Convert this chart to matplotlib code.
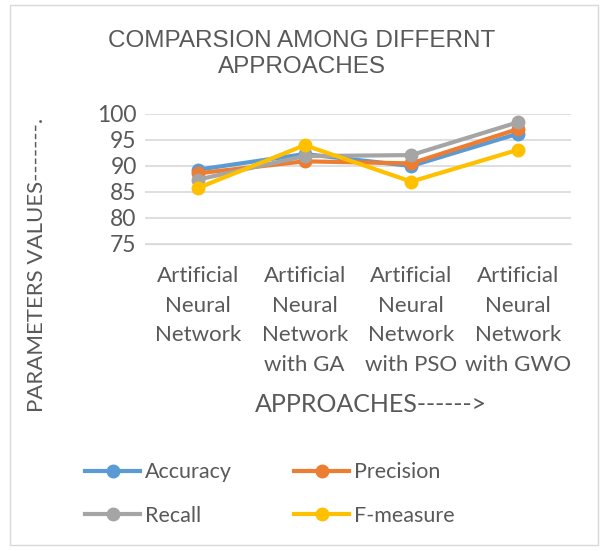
import matplotlib
matplotlib.use("Agg")
from matplotlib import pyplot as plt
from matplotlib.patches import Rectangle

approaches = ["Artificial\nNeural\nNetwork", "Artificial\nNeural\nNetwork\nwith GA",
              "Artificial\nNeural\nNetwork\nwith PSO", "Artificial\nNeural\nNetwork\nwith GWO"]
accuracy = [89.3, 92.3, 90.0, 96.2]
precision = [88.6, 90.9, 90.5, 97.1]
recall = [87.4, 91.9, 92.1, 98.4]
f_measure = [85.8, 94.0, 87.0, 93.1]

series = [("Accuracy", accuracy, "#5b9bd5"),
          ("Precision", precision, "#ed7d31"),
          ("Recall", recall, "#a5a5a5"),
          ("F-measure", f_measure, "#ffc000")]

txt = "#595959"
plt.rcParams["font.family"] = ["Lato", "DejaVu Sans"]

fig = plt.figure(figsize=(6.03, 5.51), dpi=100)
fig.patches.append(Rectangle((10/603, 1-545/551), 588/603, 540/551, transform=fig.transFigure,
                             fill=False, edgecolor="#d9d9d9", linewidth=1))
ax = fig.add_axes([145/603, 1-244/551, (571-145)/603, (244-114)/551])

x = range(len(approaches))
lines = {}
for name, vals, col in series:
    l, = ax.plot(x, vals, color=col, linewidth=3, marker="o", markersize=9, label=name, solid_joinstyle="round")
    lines[name] = l

ax.set_xlim(-0.5, 3.5)
ax.set_ylim(75, 100)
ax.set_yticks([75, 80, 85, 90, 95, 100])
ax.set_xticks(list(x))
ax.set_xticklabels(approaches, linespacing=1.6, va="top")
ax.tick_params(length=0, colors=txt)
ax.tick_params(axis="x", pad=16, labelsize=16)
ax.tick_params(axis="y", pad=6, labelsize=16.5)
ax.grid(axis="y", color="#d9d9d9", linewidth=1.2)
ax.set_axisbelow(True)
for s in ["top", "right", "left"]:
    ax.spines[s].set_visible(False)
ax.spines["bottom"].set_color("#d9d9d9")

fig.text(0.5, 1-54/551, "COMPARSION AMONG DIFFERNT\nAPPROACHES", ha="center", va="center",
         fontsize=17.5, color=txt, linespacing=1.2, family=["Liberation Sans", "DejaVu Sans"])
fig.text(371/603, 1-405/551, "APPROACHES------>", ha="center", va="center", fontsize=18, color=txt)
fig.text(37/603, 1-265/551, "PARAMETERS VALUES-------.", ha="center", va="center", rotation=90,
         fontsize=16, color=txt)

order = ["Accuracy", "Recall", "Precision", "F-measure"]
leg = fig.legend(handles=[lines[n] for n in order], loc="center", bbox_to_anchor=(270/603, 1-494/551), ncol=2,
                 frameon=False, fontsize=15.5, labelcolor=txt, handlelength=2.55, handletextpad=0.23,
                 columnspacing=2.9, labelspacing=1.1)

fig.savefig("out.png", dpi=100)
